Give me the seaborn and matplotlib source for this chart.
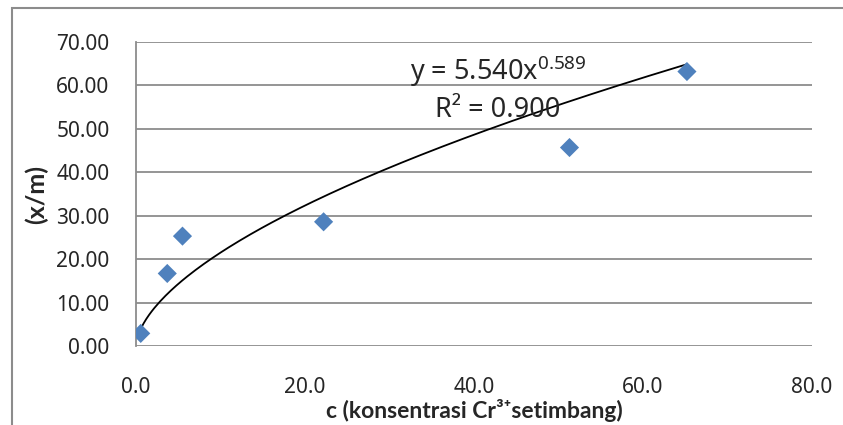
import numpy as np
import pandas as pd
import matplotlib
matplotlib.use("Agg")
import matplotlib.pyplot as plt
import seaborn as sns
from matplotlib.patches import Rectangle

# data
conc_c = [0.56, 3.7, 5.5, 22.2, 51.3, 65.2]
x_per_m = [2.9, 16.7, 25.3, 28.6, 45.7, 63.2]

# power trendline shown on the chart: y = a * x^b
fit_a = 5.540
fit_b = 0.589
fit_r2 = 0.900

x_ticks = [0, 20, 40, 60, 80]
y_ticks = [0, 10, 20, 30, 40, 50, 60, 70]

sns.set_theme(style="white")
plt.rcParams["font.family"] = ["Noto Sans", "DejaVu Sans"]
plt.rcParams["mathtext.fontset"] = "custom"
plt.rcParams["mathtext.rm"] = "Noto Sans"
plt.rcParams["mathtext.it"] = "Noto Sans"

df = pd.DataFrame({"c": conc_c, "xm": x_per_m})
x_fit = np.linspace(min(conc_c), max(conc_c), 200)
df_fit = pd.DataFrame({"c": x_fit, "xm": fit_a * x_fit ** fit_b})

fig = plt.figure(figsize=(8.43, 4.25), dpi=100)
ax = fig.add_axes([136 / 843, 1 - 346 / 425, (812 - 136) / 843, (346 - 42) / 425])

grid_col = "#8c8c8c"
for yv in y_ticks:
    ax.axhline(yv, color=grid_col, lw=1.3, zorder=0)

sns.lineplot(data=df_fit, x="c", y="xm", color="black", lw=1.3, ax=ax, zorder=2)
sns.scatterplot(data=df, x="c", y="xm", marker="D", s=95, color="#4F81BD",
                edgecolor="none", ax=ax, zorder=3)

ax.set_xlim(0, 80)
ax.set_ylim(0, 70)
ax.set_xticks(x_ticks)
ax.set_yticks(y_ticks)
ax.set_xticklabels([f"{v:.1f}" for v in x_ticks])
ax.set_yticklabels([f"{v:.2f}" for v in y_ticks])
ax.tick_params(axis="x", length=0, pad=22, labelsize=15)
ax.tick_params(axis="y", length=0, pad=19, labelsize=15)

for s in ["top", "right", "bottom"]:
    ax.spines[s].set_visible(False)
ax.spines["left"].set_color(grid_col)
ax.spines["left"].set_linewidth(1.3)

lab_font = ["Lato", "DejaVu Sans"]
ax.set_xlabel("c (konsentrasi Cr³⁺setimbang)", fontsize=16.5, fontweight="bold",
              family=lab_font, labelpad=1)
ax.set_ylabel("(x/m)", fontsize=18, fontweight="bold", family=lab_font, labelpad=6)

ax.text(32.4, 61.3, f"y = {fit_a:.3f}x$^{{{fit_b}}}$", fontsize=19.5, ha="left", va="baseline")
ax.text(35.4, 52.7, f"R² = {fit_r2:.3f}", fontsize=19.5, ha="left", va="baseline")

# outer chart frame (partly cut off like the reference)
fig.patches.append(Rectangle((12 / 843, -0.1), 1.2, 1 - 8 / 425 + 0.1,
                             transform=fig.transFigure, fill=False,
                             edgecolor="#8c8c8c", lw=1.5))

fig.savefig("out.png", dpi=100)
